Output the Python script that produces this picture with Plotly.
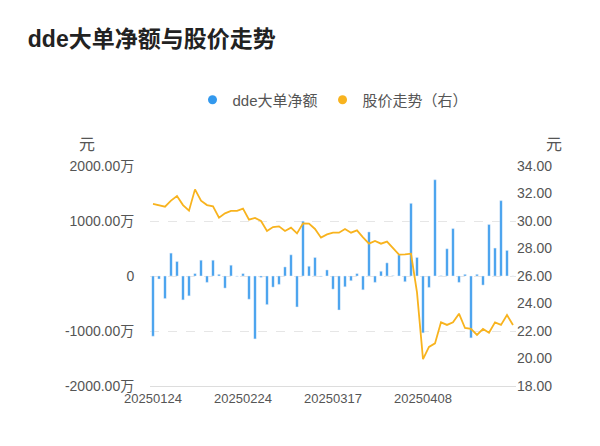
import plotly.graph_objects as go

dates = ["20250124", "20250127", "20250205", "20250206", "20250207", "20250210", "20250211",
         "20250212", "20250213", "20250214", "20250217", "20250218", "20250219", "20250220",
         "20250221", "20250224", "20250225", "20250226", "20250227", "20250228", "20250303",
         "20250304", "20250305", "20250306", "20250307", "20250310", "20250311", "20250312",
         "20250313", "20250314", "20250317", "20250318", "20250319", "20250320", "20250321",
         "20250324", "20250325", "20250326", "20250327", "20250328", "20250331", "20250401",
         "20250402", "20250403", "20250407", "20250408", "20250409", "20250410", "20250411",
         "20250414", "20250415", "20250416", "20250417", "20250418", "20250421", "20250422",
         "20250423", "20250424", "20250425", "20250428", "20250429"]

# dde net amount, in 万元
dde = [-1095, -55, -410, 416, 263, -434, -361, 43, 287, -116, 287, 30, -220, 196, -6,
       43, -422, -1144, -25, -520, -202, -153, 165, 385, -563, 997, 177, 336, -10, 110,
       -239, -618, -196, -86, 43, -251, 801, -116, 86, 239, 5, 385, -104, 1321, 336,
       -1034, -208, 1750, 5, 495, 862, -116, 30, -1125, 30, -165, 936, 508, 1370, 465, 0]
dde = dde[:len(dates)]

price = [31.24, 31.16, 31.04, 31.48, 31.82, 31.16, 30.75, 32.30, 31.48, 31.16, 31.07,
         30.24, 30.56, 30.73, 30.73, 30.90, 30.10, 30.22, 30.00, 29.27, 29.56, 29.61,
         29.27, 29.52, 29.10, 29.83, 29.81, 29.42, 28.79, 29.03, 29.15, 29.15, 29.42,
         29.15, 29.32, 28.81, 28.35, 28.55, 28.35, 28.50, 28.06, 27.55, 27.58, 27.62,
         24.81, 19.96, 20.84, 21.10, 22.63, 22.44, 22.63, 23.26, 22.22, 22.15, 21.71,
         22.15, 21.88, 22.63, 22.44, 23.16, 22.44]

left_vals = [-2000, -1000, 0, 1000, 2000]
left_text = ["-2000.00万", "-1000.00万", "0", "1000.00万", "2000.00万"]
right_vals = [18, 20, 22, 24, 26, 28, 30, 32, 34]
right_text = ["%.2f" % v for v in right_vals]

fig = go.Figure()
fig.add_trace(go.Bar(x=dates, y=dde, name="dde大单净额", marker_color="#3399ee",
                     width=0.4, yaxis="y", showlegend=False))
fig.add_trace(go.Scatter(x=dates, y=price, name="股价走势（右）", mode="lines",
                         line=dict(color="#f8b31e", width=1.8), yaxis="y2",
                         showlegend=False))
# legend entries with round icons, like the reference
fig.add_trace(go.Scatter(x=[None], y=[None], mode="markers", name="dde大单净额",
                         marker=dict(color="#3399ee", size=9)))
fig.add_trace(go.Scatter(x=[None], y=[None], mode="markers", name="股价走势（右）",
                         marker=dict(color="#f8b31e", size=9), yaxis="y2"))

fig.update_layout(
    width=600, height=446,
    margin=dict(l=142, r=92, t=158, b=68),
    paper_bgcolor="white", plot_bgcolor="white",
    font=dict(family="Liberation Sans, Noto Sans CJK SC", color="#666666", size=14),
    title=dict(text="<b>dde大单净额与股价走势</b>", x=0.033, y=0.93, xanchor="left",
               yanchor="middle", font=dict(size=23, color="#222222")),
    legend=dict(orientation="h", x=0.5, xanchor="center", y=1.3, yanchor="middle",
                font=dict(size=15, color="#555555"), itemwidth=30),
    bargap=0.5,
    xaxis=dict(type="category", tickvals=[dates[0], dates[15], dates[30], dates[45]],
               showgrid=False, showline=True, linecolor="#dddddd", ticks="",
               tickfont=dict(size=13, color="#555555")),
    yaxis=dict(range=[-2000, 2000], tickvals=left_vals, ticktext=left_text,
               showgrid=True, gridcolor="#e6e6e6", griddash="dash", zeroline=False,
               ticks="outside", ticklen=12, tickcolor="white",
               tickfont=dict(size=14, color="#555555")),
    yaxis2=dict(range=[18, 34], tickvals=right_vals, ticktext=right_text, overlaying="y",
                side="right", showgrid=False, zeroline=False,
                tickfont=dict(size=14, color="#555555")),
    annotations=[
        dict(text="元", xref="paper", yref="paper", x=-0.2, y=1.145, showarrow=False,
             font=dict(size=16, color="#555555")),
        dict(text="元", xref="paper", yref="paper", x=1.13, y=1.145, showarrow=False,
             font=dict(size=16, color="#555555")),
    ],
)

fig.write_html("out.html")
